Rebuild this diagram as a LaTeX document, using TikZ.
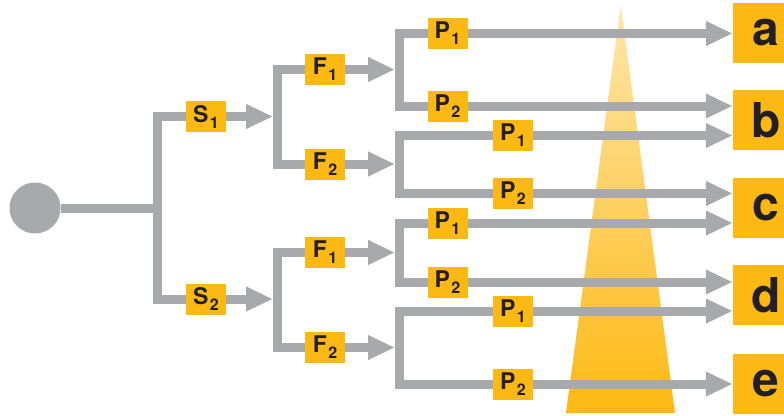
\documentclass[tikz,border=0pt]{standalone}
\usepackage{fontspec}
\setmainfont{TeX Gyre Heros}
\usetikzlibrary{arrows.meta}
\definecolor{amber}{HTML}{FDB913}
\definecolor{paleamber}{HTML}{FFE6AC}
\definecolor{stem}{HTML}{A7A9AC}
\definecolor{ink}{HTML}{231F20}

% bold letter with a lowered index
\newcommand{\idx}[2]{{\fontsize{23}{23}\selectfont #1}\kern1.5pt\raisebox{-6pt}{\fontsize{16}{16}\selectfont #2}}

\begin{document}
\begin{tikzpicture}[x=1pt,y=-1pt,
  wire/.style={draw=stem, line width=9pt, line join=miter},
  flow/.style={wire, -{Triangle[length=27pt,width=23pt]}},
  tag/.style={fill=amber, minimum width=40pt, minimum height=31pt, inner sep=0pt,
              font=\bfseries, text=ink},
  goal/.style={fill=amber, minimum width=66pt, minimum height=60pt, inner sep=0pt,
               font=\bfseries\fontsize{48}{48}\selectfont, text=ink}]

\useasboundingbox (0,0) rectangle (784,415);
\clip (0,0) rectangle (784,415);

% fading wedge behind the final arrows
\shade[top color=paleamber, bottom color=amber]
  (620.7,5) -- (675,413) -- (566,413) -- cycle;

% start point
\node[circle, fill=stem, minimum size=51pt, inner sep=0pt] (root) at (35,208) {};

% branch points
\coordinate (j0)  at (157,208);
\coordinate (js1) at (277.5,116.5);
\coordinate (js2) at (277.5,299);
\coordinate (jf1) at (399.5,69.5);
\coordinate (jf2) at (399.5,164);
\coordinate (jf3) at (399.5,252.5);
\coordinate (jf4) at (399.5,347.5);

% outcomes
\node[goal] (a) at (766,33)  {a};
\node[goal] (b) at (766,120) {b};
\node[goal] (c) at (766,208) {c};
\node[goal] (d) at (766,295) {d};
\node[goal] (e) at (766,384) {e};

% tree wiring
\draw[wire] (root) -- (j0);
\draw[wire] (206,116.5) -| (j0) |- (206,299);
\draw[wire] (325,69.5) -| (js1) |- (325,164);
\draw[wire] (325,252.5) -| (js2) |- (325,347.5);
\draw[wire] (447.5,33.5) -| (jf1) |- (447.5,106);
\draw[wire] (513,135.5) -| (jf2) |- (513,193.5);
\draw[wire] (447.5,223) -| (jf3) |- (447.5,282);
\draw[wire] (513,311) -| (jf4) |- (513,384);

% labelled steps
\node[tag] (s1) at (206,116.5) {\idx{S}{1}};
\node[tag] (s2) at (206,299)   {\idx{S}{2}};
\node[tag] (f11) at (325,69.5)  {\idx{F}{1}};
\node[tag] (f12) at (325,164)   {\idx{F}{2}};
\node[tag] (f21) at (325,252.5) {\idx{F}{1}};
\node[tag] (f22) at (325,347.5) {\idx{F}{2}};
\node[tag] (p11) at (447.5,33.5) {\idx{P}{1}};
\node[tag] (p12) at (447.5,106)  {\idx{P}{2}};
\node[tag] (p21) at (513,135.5)  {\idx{P}{1}};
\node[tag] (p22) at (513,193.5)  {\idx{P}{2}};
\node[tag] (p31) at (447.5,223)  {\idx{P}{1}};
\node[tag] (p32) at (447.5,282)  {\idx{P}{2}};
\node[tag] (p41) at (513,311)    {\idx{P}{1}};
\node[tag] (p42) at (513,384)    {\idx{P}{2}};

% arrows into the branch points
\draw[flow, shorten >=4.5pt] (s1.east) -- (js1);
\draw[flow, shorten >=4.5pt] (s2.east) -- (js2);
\draw[flow, shorten >=4.5pt] (f11.east) -- (jf1);
\draw[flow, shorten >=4.5pt] (f12.east) -- (jf2);
\draw[flow, shorten >=4.5pt] (f21.east) -- (jf3);
\draw[flow, shorten >=4.5pt] (f22.east) -- (jf4);

% arrows to the outcomes
\draw[flow] (p11.east) -- (p11.east -| a.west);
\draw[flow] (p12.east) -- (p12.east -| b.west);
\draw[flow] (p21.east) -- (p21.east -| b.west);
\draw[flow] (p22.east) -- (p22.east -| c.west);
\draw[flow] (p31.east) -- (p31.east -| c.west);
\draw[flow] (p32.east) -- (p32.east -| d.west);
\draw[flow] (p41.east) -- (p41.east -| d.west);
\draw[flow] (p42.east) -- (p42.east -| e.west);
\end{tikzpicture}
\end{document}
